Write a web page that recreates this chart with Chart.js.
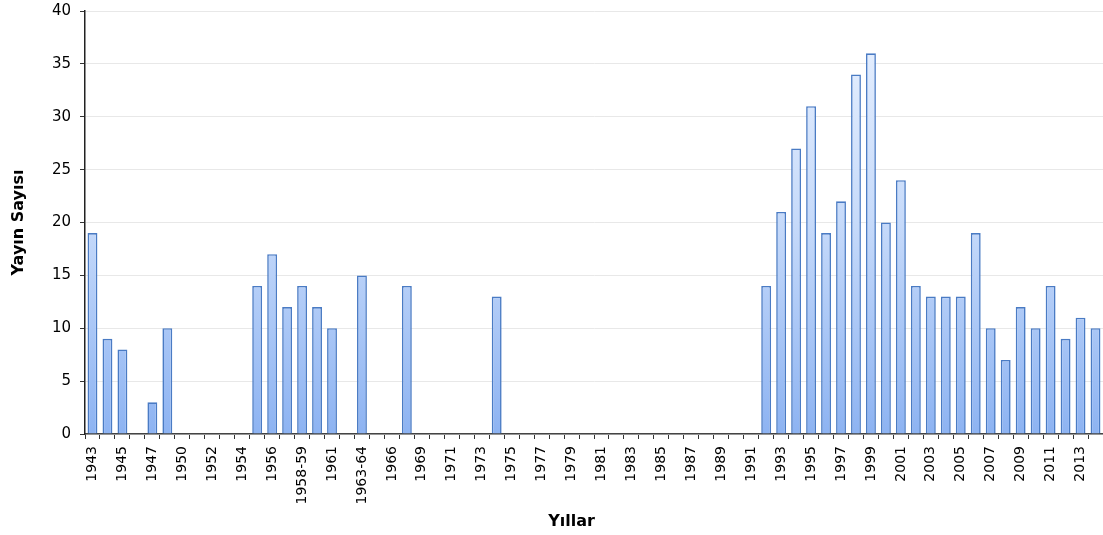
<!DOCTYPE html>
<html>
<head>
<meta charset="utf-8">
<script src="https://cdn.jsdelivr.net/npm/chart.js@4/dist/chart.umd.min.js"></script>
<style>
  html, body { margin: 0; padding: 0; background: #fff; }
  #wrap { width: 1103px; height: 535px; }
</style>
</head>
<body>
<div id="wrap"><canvas id="chart"></canvas></div>
<script>
// yıllar (kategoriler)
const years = [
    '1943', '1944', '1945', '1946', '1947', '1948',
    '1950', '1951', '1952', '1953', '1954', '1955', '1956', '1957',
    '1958-59', '1960', '1961', '1962', '1963-64', '1965', '1966', '1967',
    '1969', '1970', '1971', '1972', '1973', '1974', '1975', '1976', '1977', '1978',
    '1979', '1980', '1981', '1982', '1983', '1984', '1985', '1986', '1987', '1988',
    '1989', '1990', '1991', '1992', '1993', '1994', '1995', '1996', '1997', '1998',
    '1999', '2000', '2001', '2002', '2003', '2004', '2005', '2006', '2007', '2008',
    '2009', '2010', '2011', '2012', '2013', '2014'
];
// yayın sayısı
const counts = [
    19, 9, 8, 0, 3, 10,
    0, 0, 0, 0, 0, 14, 17, 12,
    14, 12, 10, 0, 15, 0, 0, 14,
    0, 0, 0, 0, 0, 13, 0, 0, 0, 0,
    0, 0, 0, 0, 0, 0, 0, 0, 0, 0,
    0, 0, 0, 14, 21, 27, 31, 19, 22, 34,
    36, 20, 24, 14, 13, 13, 13, 19, 10, 7,
    12, 10, 14, 9, 11, 10
];

const font = 'DejaVu Sans';

function barGradient(context) {
    const chart = context.chart;
    const area = chart.chartArea;
    if (!area) return '#b8d0f7';
    const g = chart.ctx.createLinearGradient(0, area.top, 0, area.bottom);
    g.addColorStop(0, '#eaf2ff');
    g.addColorStop(0.5, '#c6dafa');
    g.addColorStop(1, '#8db3f2');
    return g;
}

// x ekseni başlığı (orijinalde biraz sola kaymış)
const xTitlePlugin = {
    id: 'xTitle',
    afterDraw(chart) {
        const c = chart.ctx;
        const a = chart.chartArea;
        c.save();
        c.font = 'bold 16px "' + font + '"';
        c.fillStyle = '#000';
        c.textAlign = 'center';
        c.textBaseline = 'middle';
        c.fillText('Yıllar', a.left + (a.right - a.left) * 0.478, 522);
        c.restore();
    }
};

const ctx = document.getElementById('chart').getContext('2d');
new Chart(ctx, {
    type: 'bar',
    data: {
        labels: years,
        datasets: [{
            label: 'Yayın Sayısı',
            data: counts,
            backgroundColor: barGradient,
            borderColor: '#4a7bc4',
            // sıfır değerli çubuklarda çizgi çizme
            borderWidth: (c) => (c.raw === 0 ? 0 : 1.6),
            barPercentage: 0.66,
            categoryPercentage: 1
        }]
    },
    plugins: [xTitlePlugin],
    options: {
        responsive: true,
        maintainAspectRatio: false,
        animation: false,
        layout: { padding: { top: 11, right: 0, bottom: 0, left: 0 } },
        plugins: {
            legend: { display: false },
            tooltip: { enabled: false }
        },
        scales: {
            x: {
                afterFit: (scale) => {
                    scale.height = 101;
                    scale.paddingRight = 0;
                },
                grid: {
                    offset: true,
                    drawOnChartArea: false,
                    drawTicks: true,
                    tickLength: 5,
                    tickColor: '#333'
                },
                border: { color: '#444', width: 1.5 },
                ticks: {
                    autoSkip: false,
                    maxRotation: 90,
                    minRotation: 90,
                    color: '#000',
                    font: { family: font, size: 14 },
                    padding: 7,
                    callback: function (value, index) {
                        return index % 2 === 0 ? this.getLabelForValue(value) : '';
                    }
                }
            },
            y: {
                min: 0,
                max: 40,
                afterFit: (scale) => {
                    scale.width = 85;
                    scale.paddingTop = 0;
                    scale.paddingBottom = 0;
                },
                ticks: {
                    stepSize: 5,
                    color: '#000',
                    font: { family: font, size: 15 },
                    padding: 9
                },
                grid: {
                    color: '#e8e8e8',
                    tickColor: '#333',
                    tickLength: 5
                },
                border: { color: '#222', width: 1.5 },
                title: {
                    display: true,
                    text: 'Yayın Sayısı',
                    color: '#000',
                    font: { family: font, size: 16, weight: 'bold' },
                    padding: { top: 9, bottom: 6 }
                }
            }
        }
    }
});
</script>
</body>
</html>
